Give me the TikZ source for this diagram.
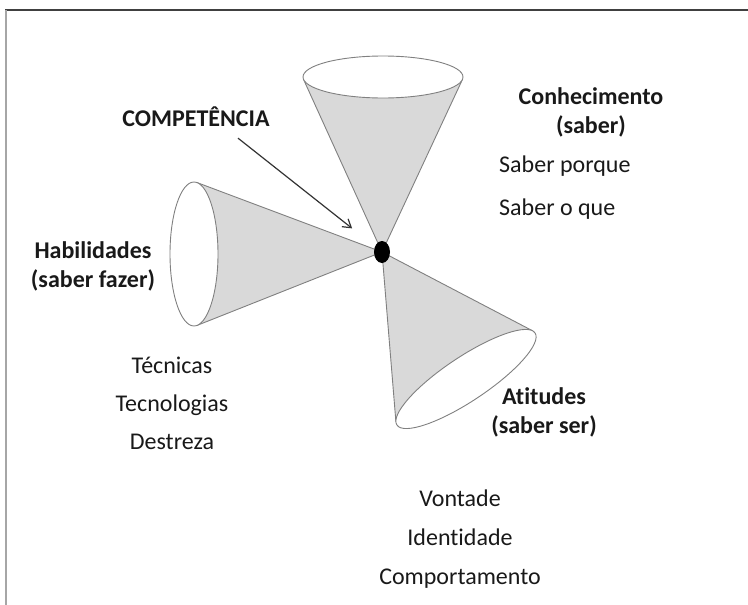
\documentclass[tikz,border=0pt]{standalone}
\usepackage{fontspec}
\setmainfont{Carlito}[Ligatures={NoCommon}]
\usetikzlibrary{arrows.meta,shapes.geometric}

\begin{document}
\begin{tikzpicture}[x=1pt,y=-1pt,
  cone/.style={draw=gray,fill=gray!30,line width=0.9pt,line join=round},
  rim/.style={draw=gray,fill=white,line width=0.9pt},
  lbl/.style={inner sep=0pt,align=center,text=black!90,font=\fontsize{24}{29}\selectfont},
  head/.style={lbl,font=\fontsize{24}{29}\selectfont\bfseries}]
\useasboundingbox (0,0) rectangle (748,605);
\draw[line width=1.5pt,black!75](5,10)--(748,10);
\draw[line width=1.2pt,black!35](6,10)--(6,605);
\coordinate (o) at (382,252);
\coordinate (ct) at (383,77);
\coordinate (cl) at (194,254);
% cones
\filldraw[cone](o)--([shift={(82.5:24 and 72)}]cl)--([shift={(-82.9:24 and 72)}]cl)--cycle;
\draw[rim](cl) ellipse [x radius=24,y radius=72];
\begin{scope}[shift={(466,379)},rotate=33.7]
\filldraw[cone](o)--(-8.4:83 and 22)--(188.4:83 and 22)--cycle;
\draw[rim](0,0) ellipse [x radius=83,y radius=22];
\end{scope}
\filldraw[cone](o)--([shift={(6.9:80 and 21)}]ct)--([shift={(173.1:80 and 21)}]ct)--cycle;
\draw[rim](ct) ellipse [x radius=80,y radius=21];
\node[ellipse,fill=black,minimum width=16pt,minimum height=22pt,inner sep=0pt] (dot) at (o) {};
% labels
\node[head] (comp) at (196,117) {COMPETÊNCIA};
\node[head] (conh) at (591,112) {Conhecimento\\(saber)};
\node[lbl,anchor=west,align=left] (saber) at (499,188) {Saber porque\\[14pt]Saber o que};
\node[head] (hab) at (93,266) {Habilidades\\(saber fazer)};
\node[lbl] (tec) at (172,403) {Técnicas\\[9pt]Tecnologias\\[9pt]Destreza};
\node[head] (ati) at (544,412) {Atitudes\\(saber ser)};
\node[lbl] (von) at (460,539) {Vontade\\[10pt]Identidade\\[10pt]Comportamento};
\draw[-{Straight Barb[length=8pt,width=10pt]},line width=1.2pt,black!80,shorten >=29pt]([xshift=42pt,yshift=-11pt]comp.south)--(dot);
\end{tikzpicture}
\end{document}
